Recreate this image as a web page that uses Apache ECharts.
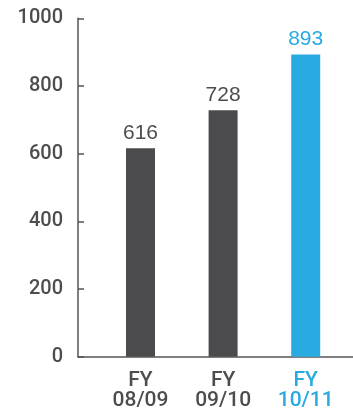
<!DOCTYPE html>
<html>
<head>
<meta charset="utf-8">
<script src="https://cdn.jsdelivr.net/npm/echarts@6/dist/echarts.min.js"></script>
<style>
  html, body { margin: 0; padding: 0; background: #fff; }
  #chart { width: 353px; height: 412px; }
</style>
</head>
<body>
<div id="chart"></div>
<script>
// Fiscal years and values
const years = ['FY\n08/09', 'FY\n09/10', 'FY\n10/11'];
const values = [616, 728, 893];
const highlight = [false, false, true];
const yTicks = [0, 200, 400, 600, 800, 1000];

const DARK = '#4b4b4d';
const BLUE = '#29abe2';
const TEXT = '#4d4d4f';
const FONT = '"Liberation Sans", Arial, Helvetica, sans-serif';
const FONT_MED = 'Roboto, "Liberation Sans", Arial, sans-serif';

const chart = echarts.init(document.getElementById('chart'), null, { renderer: 'canvas' });

const gridTop = 18.3, gridBottom = 55.3;

chart.setOption({
  animation: false,
  grid: [
    // frame: y axis with ticks and full-width baseline
    { left: 78, right: 0, top: gridTop, bottom: gridBottom },
    // bars
    { left: 99.2, right: 6, top: gridTop, bottom: gridBottom }
  ],
  xAxis: [
    {
      gridIndex: 0, type: 'value', min: 0, max: 1,
      axisLine: { show: true, onZero: false, lineStyle: { color: '#555557', width: 1.5 } },
      axisTick: { show: false }, axisLabel: { show: false }, splitLine: { show: false }
    },
    {
      gridIndex: 1, type: 'category', data: years,
      axisLine: { show: false }, axisTick: { show: false }, splitLine: { show: false },
      axisLabel: {
        margin: 14,
        fontFamily: FONT_MED,
        fontWeight: 500,
        fontSize: 21,
        lineHeight: 20,
        color: (v, i) => highlight[i] ? BLUE : TEXT
      }
    }
  ],
  yAxis: [
    {
      gridIndex: 0, type: 'value', min: yTicks[0], max: yTicks[yTicks.length - 1], interval: 200,
      axisLine: { show: true, lineStyle: { color: '#555557', width: 1.5 } },
      axisTick: { show: true, inside: true, length: 6, lineStyle: { color: '#555557', width: 1.5 } },
      splitLine: { show: false },
      axisLabel: {
        margin: 15,
        fontFamily: FONT_MED,
        fontSize: 20,
        fontWeight: 500,
        color: TEXT,
        formatter: v => String(v)
      }
    },
    {
      gridIndex: 1, type: 'value', min: yTicks[0], max: yTicks[yTicks.length - 1],
      show: false
    }
  ],
  series: [{
    type: 'bar',
    xAxisIndex: 1,
    yAxisIndex: 1,
    barWidth: 29,
    data: values.map((v, i) => ({
      value: v,
      itemStyle: { color: highlight[i] ? BLUE : DARK },
      label: { color: highlight[i] ? BLUE : TEXT }
    })),
    label: {
      show: true,
      position: 'top',
      distance: 5,
      fontFamily: FONT,
      fontSize: 21
    }
  }]
});
</script>
</body>
</html>
